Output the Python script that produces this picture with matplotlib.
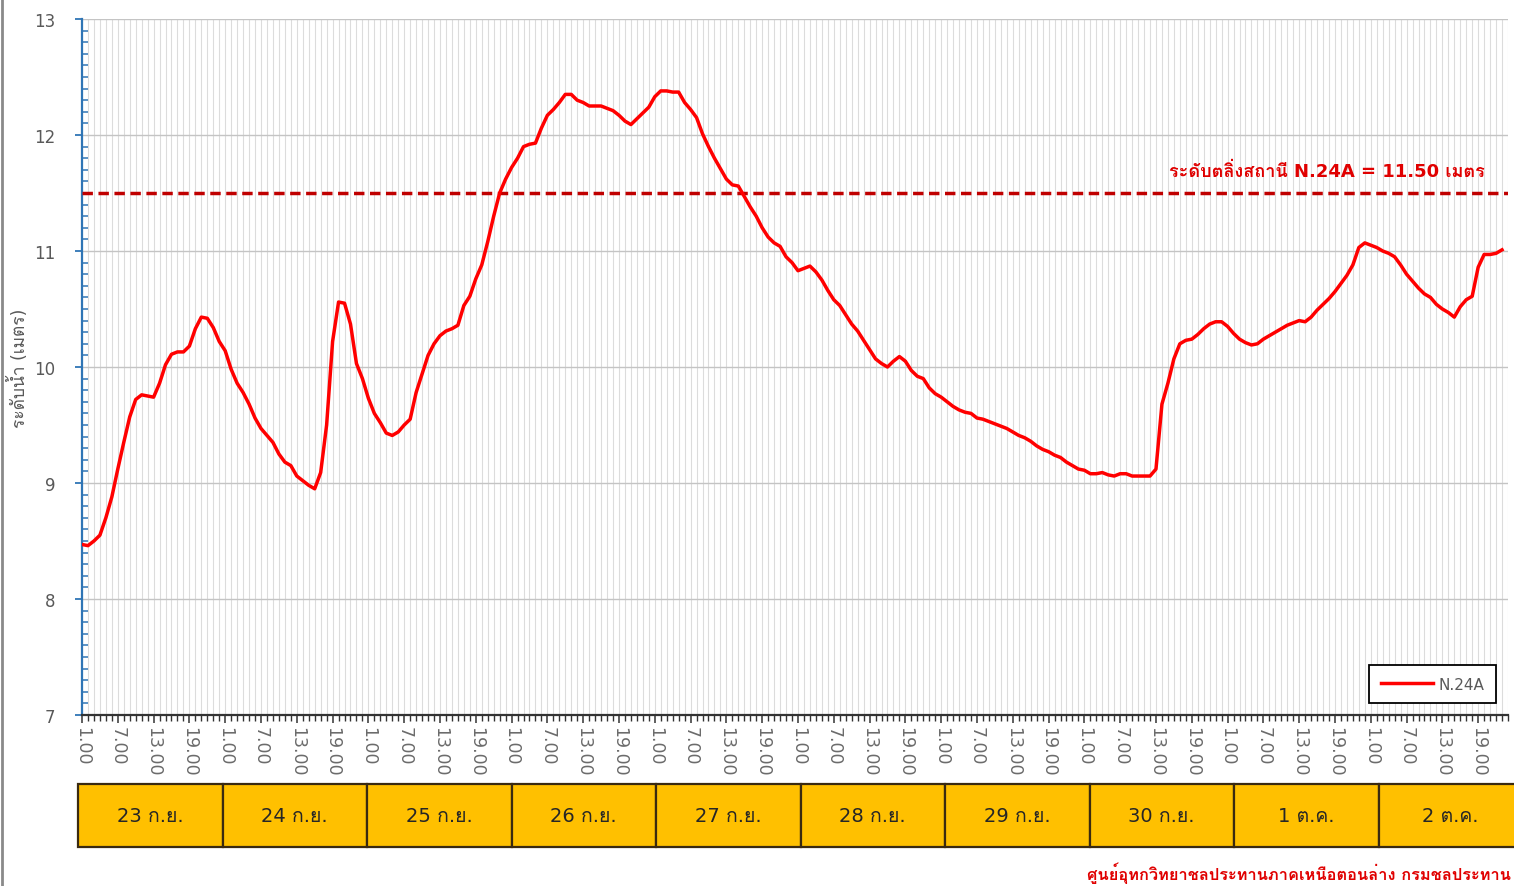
import numpy as np
import matplotlib.pyplot as plt
from matplotlib import font_manager
from matplotlib.ft2font import FT2Font
from matplotlib.lines import Line2D

# --- find a font that has Thai glyphs (fallback: DejaVu only) ---
thai_font = None
for fe in font_manager.fontManager.ttflist:
    try:
        if FT2Font(fe.fname).get_char_index(0x0E01):
            thai_font = fe.name
            break
    except Exception:
        pass
families = ['DejaVu Sans'] + ([thai_font] if thai_font else [])
plt.rcParams['font.family'] = families

# --- data: hourly water level (m), 23 Sep 1.00 -> 2 Oct 23.00 ---
day_labels = ['23 ก.ย.', '24 ก.ย.', '25 ก.ย.', '26 ก.ย.', '27 ก.ย.',
              '28 ก.ย.', '29 ก.ย.', '30 ก.ย.', '1 ต.ค.', '2 ต.ค.']
hour_labels = ['1.00', '7.00', '13.00', '19.00']

sep23 = [8.47, 8.46, 8.50, 8.55, 8.70, 8.88, 9.12, 9.35, 9.57, 9.72, 9.76, 9.75,
         9.74, 9.86, 10.02, 10.11, 10.13, 10.13, 10.18, 10.33, 10.43, 10.42, 10.34, 10.22]
sep24 = [10.14, 9.98, 9.86, 9.78, 9.68, 9.56, 9.47, 9.41, 9.35, 9.25, 9.18, 9.15,
         9.06, 9.02, 8.98, 8.95, 9.09, 9.50, 10.22, 10.56, 10.55, 10.37, 10.03, 9.90]
sep25 = [9.73, 9.60, 9.52, 9.43, 9.41, 9.44, 9.50, 9.55, 9.78, 9.94, 10.10, 10.20,
         10.27, 10.31, 10.33, 10.36, 10.53, 10.61, 10.76, 10.88, 11.08, 11.30, 11.50, 11.62]
sep26 = [11.72, 11.80, 11.90, 11.92, 11.93, 12.06, 12.17, 12.22, 12.28, 12.35, 12.35, 12.30,
         12.28, 12.25, 12.25, 12.25, 12.23, 12.21, 12.17, 12.12, 12.09, 12.14, 12.19, 12.24]
sep27 = [12.33, 12.38, 12.38, 12.37, 12.37, 12.28, 12.22, 12.15, 12.01, 11.90, 11.80, 11.71,
         11.62, 11.57, 11.56, 11.47, 11.38, 11.30, 11.20, 11.12, 11.07, 11.04, 10.95, 10.90]
sep28 = [10.83, 10.85, 10.87, 10.82, 10.75, 10.66, 10.58, 10.53, 10.45, 10.37, 10.31, 10.23,
         10.15, 10.07, 10.03, 10.00, 10.05, 10.09, 10.05, 9.97, 9.92, 9.90, 9.82, 9.77]
sep29 = [9.74, 9.70, 9.66, 9.63, 9.61, 9.60, 9.56, 9.55, 9.53, 9.51, 9.49, 9.47,
         9.44, 9.41, 9.39, 9.36, 9.32, 9.29, 9.27, 9.24, 9.22, 9.18, 9.15, 9.12]
sep30 = [9.11, 9.08, 9.08, 9.09, 9.07, 9.06, 9.08, 9.08, 9.06, 9.06, 9.06, 9.06,
         9.12, 9.68, 9.86, 10.07, 10.20, 10.23, 10.24, 10.28, 10.33, 10.37, 10.39, 10.39]
oct01 = [10.35, 10.29, 10.24, 10.21, 10.19, 10.20, 10.24, 10.27, 10.30, 10.33, 10.36, 10.38,
         10.40, 10.39, 10.43, 10.49, 10.54, 10.59, 10.65, 10.72, 10.79, 10.88, 11.03, 11.07]
oct02 = [11.05, 11.03, 11.00, 10.98, 10.95, 10.88, 10.80, 10.74, 10.68, 10.63, 10.60, 10.54,
         10.50, 10.47, 10.43, 10.52, 10.58, 10.61, 10.86, 10.97, 10.97, 10.98, 11.01]

level = np.array(sep23 + sep24 + sep25 + sep26 + sep27 + sep28 + sep29 + sep30 + oct01 + oct02)
bank_level = 11.50

W, H = 1514, 887
fig = plt.figure(figsize=(W / 100, H / 100), dpi=100)
ax = fig.add_axes([82 / W, 1 - 716 / H, (1508 - 82) / W, (716 - 20) / H])

x = np.arange(len(level))
ax.plot(x, level, color='#FF0000', lw=2.5, label='N.24A', zorder=4)
ax.axhline(bank_level, color='#C00000', lw=2.5, linestyle=(0, (3, 1.6)), zorder=3)
ax.text(0.984, 0.782, 'ระดับตลิ่งสถานี N.24A = 11.50 เมตร', transform=ax.transAxes,
        ha='right', va='center', color='#E00000', fontsize=13, fontweight='bold')

ax.set_xlim(0, 239)
ax.set_ylim(7, 13)

n_days = len(day_labels)
ax.set_xticks(np.arange(0, 24 * n_days, 6))
ax.set_xticklabels(hour_labels * n_days, rotation=-90, color='#6b6b6b', fontsize=12.5)
ax.set_xticks(np.arange(0, 24 * n_days), minor=True)
ax.set_yticks(np.arange(7, 14, 1))
ax.set_yticklabels([str(v) for v in range(7, 14)], color='#595959', fontsize=12)
ax.set_yticks(np.arange(7, 13.01, 0.1), minor=True)

ax.grid(which='both', axis='x', color='#dcdcdc', lw=0.8)
ax.grid(which='major', axis='y', color='#c4c4c4', lw=1.0)
ax.set_axisbelow(True)

for s in ('top', 'right'):
    ax.spines[s].set_visible(False)
ax.spines['left'].set_color('#2F75B5')
ax.spines['left'].set_linewidth(1.6)
ax.spines['bottom'].set_color('#333333')
ax.spines['bottom'].set_linewidth(1.6)

ax.tick_params(axis='y', which='major', direction='out', length=5, color='#2F75B5', width=1.3, pad=14)
ax.tick_params(axis='y', which='minor', direction='in', length=4, color='#2F75B5', width=1.1)
ax.tick_params(axis='x', which='major', direction='out', length=6, color='#333333', width=1.1, pad=2)
ax.tick_params(axis='x', which='minor', direction='out', length=4.5, color='#333333', width=1.0)

ax.set_ylabel('ระดับน้ำ (เมตร)', color='#595959', fontsize=12.5)
ax.yaxis.set_label_coords(-0.037, 0.5)

leg = ax.legend(loc='lower right', bbox_to_anchor=(1496 / W, 1 - 704 / H), bbox_transform=fig.transFigure,
                fontsize=11, handlelength=3.4, handletextpad=0.4, borderpad=0.75, borderaxespad=0,
                fancybox=False, framealpha=1, edgecolor='#000000')
leg.get_frame().set_linewidth(1.3)
for t in leg.get_texts():
    t.set_color('#595959')

# --- day strip under the x axis ---
ax2 = fig.add_axes([78 / W, 1 - 848 / H, n_days * 144.5 / W, 63 / H])
days = np.arange(n_days)
ax2.bar(days, np.ones(n_days), width=1, align='edge', color='#FFC000',
        edgecolor='#3a2a10', lw=1.6, clip_on=False)
for d, lab in zip(days, day_labels):
    ax2.text(d + 0.5, 0.5, lab, ha='center', va='center', fontsize=14, color='#262626')
ax2.set_xlim(0, n_days)
ax2.set_ylim(0, 1)
ax2.axis('off')

fig.text(1511 / W, 1 - 873 / H, 'ศูนย์อุทกวิทยาชลประทานภาคเหนือตอนล่าง กรมชลประทาน',
         ha='right', va='center', color='#E00000', fontsize=11.8, fontweight='bold')
fig.add_artist(Line2D([0.001, 0.001], [0, 1], transform=fig.transFigure, color='#8a8a8a', lw=2))

fig.savefig('out.png', dpi=100, facecolor='white')
